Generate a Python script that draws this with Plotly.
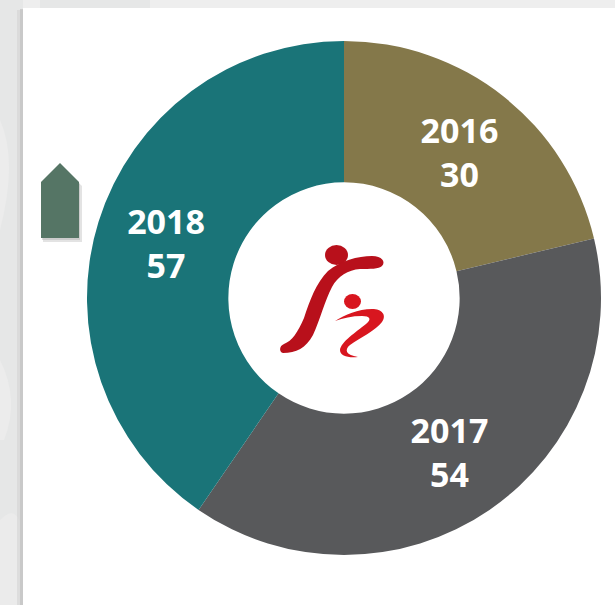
import plotly.graph_objects as go

# ---- data ----
years = ["2016", "2017", "2018"]
counts = [30, 54, 57]
slice_colors = ["#84784a", "#58595b", "#1a7478"]

W, H = 615, 605

fig = go.Figure()

# invisible helper trace so the pixel-like cartesian axes exist for the decorations
fig.add_trace(go.Scatter(x=[0], y=[0], mode="markers", marker=dict(opacity=0),
                         hoverinfo="skip", showlegend=False))

fig.add_trace(go.Pie(
    labels=years,
    values=counts,
    sort=False,
    direction="clockwise",
    rotation=0,
    hole=0.45,
    marker=dict(colors=slice_colors, line=dict(width=0)),
    texttemplate="<b>%{label}<br>%{value}</b>",
    textposition="inside",
    insidetextorientation="horizontal",
    textfont=dict(family="Open Sans", size=34, color="white"),
    hoverinfo="skip",
    showlegend=False,
    domain=dict(x=[87 / W, 601 / W], y=[1 - 555 / H, 1 - 41 / H]),
))

shapes = []
# background decoration
shapes.append(dict(type="rect", x0=0, x1=23, y0=0, y1=H, fillcolor="#e6e7e7", line_width=0, layer="below"))
shapes.append(dict(type="path", path="M 0,120 Q 18,160 0,230 Z", fillcolor="#ececec", line_width=0, layer="below"))
shapes.append(dict(type="path", path="M 0,360 Q 20,400 4,440 L 0,440 Z", fillcolor="#ececec", line_width=0, layer="below"))
shapes.append(dict(type="path", path="M 0,520 Q 20,500 23,540 L 23,605 L 0,605 Z", fillcolor="#ebebeb", line_width=0, layer="below"))
shapes.append(dict(type="rect", x0=40, x1=150, y0=0, y1=8, fillcolor="#e6e7e7", line_width=0, layer="below"))
# card shadow
shapes.append(dict(type="rect", x0=17, x1=23, y0=10, y1=H, fillcolor="#d4d4d4", opacity=0.6, line_width=0, layer="below"))
shapes.append(dict(type="rect", x0=20, x1=23, y0=9, y1=H, fillcolor="#bdbdbd", opacity=0.6, line_width=0, layer="below"))
# white card
shapes.append(dict(type="rect", x0=23, x1=W, y0=8, y1=H, fillcolor="white", line_width=0, layer="below"))
# pentagon marker with soft shadow
shapes.append(dict(type="path", path="M 43,186 L 62,167 L 82,186 L 82,242 L 43,242 Z",
                   fillcolor="#b0b0b0", opacity=0.35, line_width=0, layer="below"))
shapes.append(dict(type="path", path="M 42,184 L 61,165 L 80,184 L 80,240 L 42,240 Z",
                   fillcolor="#a0a0a0", opacity=0.35, line_width=0, layer="below"))
shapes.append(dict(type="path", path="M 41,182 L 60,163 L 79,182 L 79,238 L 41,238 Z",
                   fillcolor="#557565", line_width=0, layer="below"))

# center logo
red_dark = "#b8101b"
red = "#d8161f"
shapes.append(dict(type="circle", x0=325, x1=348, y0=245, y1=265, fillcolor=red_dark, line_width=0, layer="above"))
shapes.append(dict(type="circle", x0=344, x1=361, y0=294, y1=309, fillcolor=red, line_width=0, layer="above"))
shapes.append(dict(type="path", path=(
    "M 283,353 C 279,352 279,346 284,344 C 292,341 298,332 304,318 "
    "C 310,300 316,283 328,271 C 340,261 358,256 372,256 "
    "C 382,256 386,262 382,266 C 379,269 370,269 360,269 "
    "C 348,270 338,276 332,287 C 325,300 320,320 313,335 "
    "C 306,348 296,353 283,353 Z"),
    fillcolor=red_dark, line_width=0, layer="above"))
shapes.append(dict(type="path", path=(
    "M 335,321 C 345,315 358,309 372,309 C 382,309 387,315 382,322 "
    "C 376,330 360,338 350,345 C 344,350 346,355 358,357 "
    "C 348,358 340,356 340,350 C 341,342 356,332 366,324 "
    "C 372,319 370,316 362,316 C 352,316 343,318 335,321 Z"),
    fillcolor=red, line_width=0, layer="above"))

fig.update_layout(
    width=W, height=H,
    margin=dict(l=0, r=0, t=0, b=0),
    paper_bgcolor="#eeeeee",
    plot_bgcolor="rgba(0,0,0,0)",
    xaxis=dict(range=[0, W], visible=False, fixedrange=True, domain=[0, 1]),
    yaxis=dict(range=[H, 0], visible=False, fixedrange=True, domain=[0, 1]),
    shapes=shapes,
    uniformtext=dict(minsize=34, mode="show"),
)

fig.write_html(
    "out.html",
    config={"displayModeBar": False},
    post_script="document.body.style.margin='0';document.body.style.overflow='hidden';",
)
